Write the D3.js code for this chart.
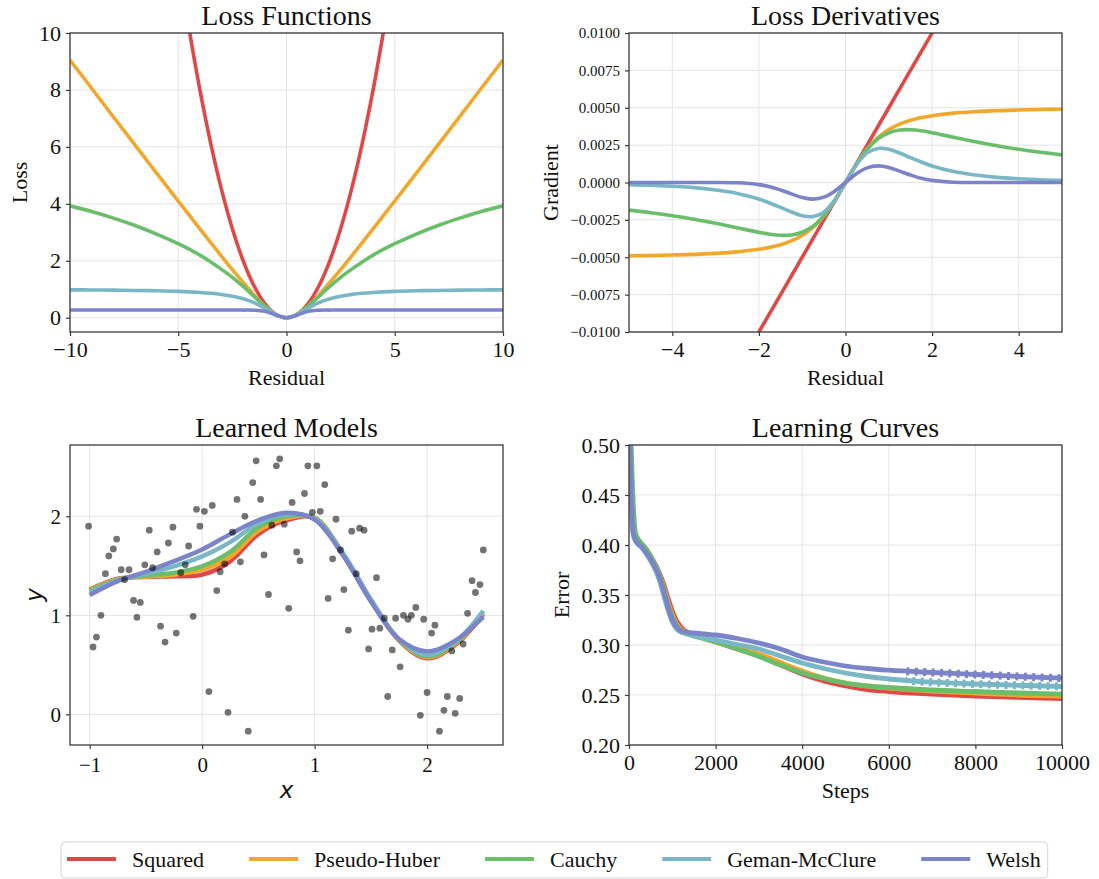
<!DOCTYPE html>
<html>
<head>
<meta charset="utf-8">
<script src="https://cdn.jsdelivr.net/npm/d3@7"></script>
<style>
  body { margin: 0; background: #fff; }
  svg { display: block; }
  text { font-family: "Liberation Serif", "Times New Roman", serif; fill: #111; }
</style>
</head>
<body>
<svg id="fig" width="1099" height="879"></svg>
<script>
// ---------- series ----------
const seriesNames  = ["Squared", "Pseudo-Huber", "Cauchy", "Geman-McClure", "Welsh"];
const seriesColors = ["#e04848", "#efa82c", "#6abd6a", "#79b6c6", "#7b83c9"];

// ---------- loss functions ----------
const squaredX    = [-4.6,-4,-3.5,-3,-2.5,-2,-1.5,-1,-0.5,0,0.5,1,1.5,2,2.5,3,3.5,4,4.6];
const squaredLoss = [10.58,8,6.125,4.5,3.125,2,1.125,0.5,0.125,0,0.125,0.5,1.125,2,3.125,4.5,6.125,8,10.58];
const lossX       = [-10,-9,-8,-7,-6,-5,-4,-3.5,-3,-2.5,-2,-1.5,-1,-0.5,0,0.5,1,1.5,2,2.5,3,3.5,4,5,6,7,8,9,10];
const pseudoHuberLoss = [9.05,8.06,7.06,6.07,5.08,4.10,3.12,2.64,2.16,1.69,1.24,0.80,0.41,0.12,0,0.12,0.41,0.80,1.24,1.69,2.16,2.64,3.12,4.10,5.08,6.07,7.06,8.06,9.05];
const cauchyLoss      = [3.93,3.73,3.50,3.24,2.94,2.60,2.20,1.96,1.70,1.42,1.10,0.75,0.41,0.12,0,0.12,0.41,0.75,1.10,1.42,1.70,1.96,2.20,2.60,2.94,3.24,3.50,3.73,3.93];
const gemanLoss       = [0.98,0.976,0.97,0.96,0.947,0.926,0.889,0.86,0.818,0.758,0.667,0.53,0.333,0.111,0,0.111,0.333,0.53,0.667,0.758,0.818,0.86,0.889,0.926,0.947,0.96,0.97,0.976,0.98];
const welshLoss       = [0.27,0.27,0.27,0.27,0.27,0.27,0.27,0.27,0.27,0.27,0.27,0.266,0.228,0.10,0,0.10,0.228,0.266,0.27,0.27,0.27,0.27,0.27,0.27,0.27,0.27,0.27,0.27,0.27];

// ---------- loss derivatives ----------
const squaredGradX = [-2.1,-1,0,1,2.1];
const squaredGrad  = [-0.0105,-0.005,0,0.005,0.0105];
const gradX = [-5,-4.5,-4,-3.5,-3,-2.5,-2,-1.75,-1.5,-1.25,-1,-0.75,-0.5,-0.25,0,0.25,0.5,0.75,1,1.25,1.5,1.75,2,2.5,3,3.5,4,4.5,5];
const pseudoHuberGrad = [-0.00490,-0.00488,-0.00485,-0.00481,-0.00474,-0.00464,-0.00447,-0.00434,-0.00416,-0.00390,-0.00354,-0.00300,-0.00224,-0.00121,0,0.00121,0.00224,0.00300,0.00354,0.00390,0.00416,0.00434,0.00447,0.00464,0.00474,0.00481,0.00485,0.00488,0.00490];
const cauchyGrad      = [-0.00185,-0.00202,-0.00222,-0.00246,-0.00273,-0.00303,-0.00333,-0.00346,-0.00353,-0.00351,-0.00333,-0.00293,-0.00222,-0.00121,0,0.00121,0.00222,0.00293,0.00333,0.00351,0.00353,0.00346,0.00333,0.00303,0.00273,0.00246,0.00222,0.00202,0.00185];
const gemanGrad       = [-0.00014,-0.00018,-0.00025,-0.00034,-0.00050,-0.00073,-0.00111,-0.00137,-0.00166,-0.00197,-0.00222,-0.00228,-0.00198,-0.00118,0,0.00118,0.00198,0.00228,0.00222,0.00197,0.00166,0.00137,0.00111,0.00073,0.00050,0.00034,0.00025,0.00018,0.00014];
const welshGrad       = [0,0,0,0,0,-0.00002,-0.00014,-0.00028,-0.00050,-0.00076,-0.00101,-0.00111,-0.00098,-0.00058,0,0.00058,0.00098,0.00111,0.00101,0.00076,0.00050,0.00028,0.00014,0.00002,0,0,0,0,0];

// ---------- learned models ----------
const scatterX = [-1.01,-0.97,-0.94,-0.90,-0.86,-0.83,-0.79,-0.76,-0.72,-0.69,
                  -0.65,-0.61,-0.58,-0.55,-0.51,-0.47,-0.44,-0.40,-0.37,-0.33,
                  -0.30,-0.26,-0.23,-0.19,-0.15,-0.12,-0.08,-0.05,-0.02,0.02,
                  0.06,0.09,0.13,0.16,0.20,0.23,0.27,0.31,0.34,0.38,
                  0.41,0.45,0.48,0.52,0.55,0.59,0.62,0.66,0.69,0.73,
                  0.77,0.80,0.84,0.87,0.91,0.94,0.98,1.02,1.05,1.09,
                  1.12,1.16,1.19,1.23,1.26,1.30,1.33,1.37,1.40,1.44,
                  1.48,1.51,1.55,1.58,1.62,1.65,1.69,1.72,1.76,1.79,
                  1.83,1.86,1.90,1.94,1.97,2.00,2.04,2.07,2.11,2.15,
                  2.18,2.22,2.25,2.29,2.32,2.36,2.40,2.43,2.47,2.50];
const scatterY = [1.90,0.68,0.78,1.00,1.42,1.60,1.67,1.77,1.46,1.36,
                  1.46,1.15,0.98,1.13,1.51,1.86,1.48,1.64,0.89,0.73,
                  1.73,1.89,0.82,1.43,1.51,1.70,0.99,2.07,1.90,2.05,
                  0.23,2.11,1.25,1.44,1.52,0.02,1.84,2.17,1.54,2.00,
                  -0.17,2.34,2.56,2.17,1.61,1.21,1.91,2.51,2.58,1.92,
                  1.07,2.14,1.64,1.55,2.23,2.51,2.04,2.51,2.05,2.32,
                  1.17,1.57,1.97,1.66,1.26,0.85,1.85,1.42,1.88,1.86,
                  0.66,0.86,1.38,0.87,0.97,0.18,0.65,0.97,0.48,1.00,
                  0.96,1.00,1.08,-0.01,0.96,0.22,0.82,0.90,-0.17,0.04,
                  0.18,0.64,0.01,0.16,0.71,1.02,1.35,1.23,1.31,1.66];
const modelX = [-1,-0.75,-0.5,-0.25,0,0.25,0.5,0.75,1,1.25,1.5,1.75,2,2.25,2.5];
const squaredFit     = [1.26,1.37,1.387,1.394,1.41,1.545,1.82,1.96,1.985,1.62,1.15,0.745,0.565,0.70,1.01];
const pseudoHuberFit = [1.255,1.365,1.39,1.41,1.46,1.59,1.855,1.98,1.985,1.625,1.155,0.75,0.575,0.71,1.02];
const cauchyFit      = [1.245,1.36,1.40,1.43,1.495,1.64,1.89,2.00,1.98,1.63,1.16,0.755,0.585,0.72,1.04];
const gemanFit       = [1.23,1.355,1.42,1.495,1.595,1.74,1.93,2.02,1.975,1.63,1.16,0.76,0.60,0.73,1.045];
const welshFit       = [1.205,1.345,1.44,1.547,1.665,1.82,1.96,2.035,1.965,1.61,1.14,0.76,0.636,0.745,0.984];

// ---------- learning curves ----------
const steps = [0,50,100,150,200,300,400,500,600,700,800,900,1000,1100,1200,1300,1500,1750,2000,2500,3000,3500,4000,4500,5000,5500,6000,7000,8000,9000,10000];
const squaredErr     = [0.56,0.47,0.412,0.406,0.403,0.399,0.394,0.388,0.381,0.372,0.361,0.347,0.334,0.324,0.318,0.314,0.311,0.307,0.3033,0.296,0.289,0.280,0.271,0.264,0.259,0.2555,0.2535,0.251,0.249,0.2477,0.2465];
const pseudoHuberErr = [0.56,0.47,0.412,0.406,0.403,0.399,0.394,0.388,0.380,0.370,0.358,0.343,0.330,0.321,0.316,0.313,0.310,0.3065,0.3036,0.2975,0.291,0.2825,0.274,0.267,0.262,0.259,0.257,0.254,0.252,0.250,0.2488];
const cauchyErr      = [0.58,0.50,0.44,0.412,0.407,0.401,0.396,0.389,0.381,0.371,0.357,0.341,0.328,0.320,0.315,0.312,0.309,0.306,0.303,0.296,0.2885,0.280,0.272,0.2665,0.262,0.2592,0.2575,0.255,0.2535,0.252,0.2508];
const gemanErr       = [0.55,0.45,0.410,0.404,0.401,0.397,0.391,0.384,0.376,0.365,0.350,0.335,0.323,0.316,0.313,0.3115,0.3095,0.307,0.305,0.3005,0.296,0.289,0.282,0.2765,0.272,0.2685,0.266,0.2628,0.261,0.2597,0.2585];
const welshErr       = [0.55,0.45,0.412,0.405,0.402,0.398,0.392,0.386,0.378,0.368,0.354,0.338,0.325,0.318,0.314,0.313,0.312,0.311,0.310,0.3065,0.302,0.296,0.288,0.283,0.279,0.2765,0.2748,0.2725,0.2705,0.2685,0.2668];

// ---------- tick labels ----------
const lossXTicks = [-10,-5,0,5,10];
const lossYTicks = [0,2,4,6,8,10];
const gradXTicks = [-4,-2,0,2,4];
const gradYTicks = [-0.01,-0.0075,-0.005,-0.0025,0,0.0025,0.005,0.0075,0.01];
const modelXTicks = [-1,0,1,2];
const modelYTicks = [0,1,2];
const stepTicks = [0,2000,4000,6000,8000,10000];
const errTicks = [0.20,0.25,0.30,0.35,0.40,0.45,0.50];

const svg = d3.select("#fig");
let clipId = 0;

function panel(o) {
  const x = d3.scaleLinear().domain(o.xDomain).range([o.l, o.r]);
  const y = d3.scaleLinear().domain(o.yDomain).range([o.b, o.t]);
  const g = svg.append("g");

  // grid
  g.append("g").selectAll("line").data(o.xTicks).join("line")
    .attr("x1", d => x(d)).attr("x2", d => x(d)).attr("y1", o.t).attr("y2", o.b)
    .attr("stroke", "#e3e3e3").attr("stroke-width", 1);
  g.append("g").selectAll("line").data(o.yTicks).join("line")
    .attr("y1", d => y(d)).attr("y2", d => y(d)).attr("x1", o.l).attr("x2", o.r)
    .attr("stroke", "#e3e3e3").attr("stroke-width", 1);

  const id = "clip" + (clipId++);
  svg.append("clipPath").attr("id", id).append("rect")
    .attr("x", o.l).attr("y", o.t).attr("width", o.r - o.l).attr("height", o.b - o.t);
  const plot = g.append("g").attr("clip-path", `url(#${id})`);
  o.draw(plot, x, y);

  // frame
  g.append("rect").attr("x", o.l).attr("y", o.t).attr("width", o.r - o.l).attr("height", o.b - o.t)
    .attr("fill", "none").attr("stroke", "#3a3a3a").attr("stroke-width", 1.3);

  const xAxis = g.append("g").attr("transform", `translate(0,${o.b})`)
    .call(d3.axisBottom(x).tickValues(o.xTicks).tickSize(4).tickPadding(o.xPad || 5).tickFormat(o.xFormat));
  const yAxis = g.append("g").attr("transform", `translate(${o.l},0)`)
    .call(d3.axisLeft(y).tickValues(o.yTicks).tickSize(4).tickPadding(5).tickFormat(o.yFormat));
  [xAxis, yAxis].forEach(a => {
    a.select(".domain").remove();
    a.selectAll(".tick line").attr("stroke", "#3a3a3a").attr("stroke-width", 1.2);
    a.selectAll(".tick text").attr("fill", "#111")
      .style("font-family", '"Liberation Serif", serif');
  });
  xAxis.selectAll(".tick text").style("font-size", o.xTickSize + "px");
  yAxis.selectAll(".tick text").style("font-size", o.yTickSize + "px");

  // title and labels
  g.append("text").attr("x", (o.l + o.r) / 2).attr("y", o.t - 8)
    .attr("text-anchor", "middle").style("font-size", "28px").text(o.title);
  const xl = g.append("text").attr("x", (o.l + o.r) / 2).attr("y", o.xLabelY)
    .attr("text-anchor", "middle").style("font-size", o.labelSize + "px").text(o.xLabel);
  const yl = g.append("text")
    .attr("transform", `translate(${o.yLabelX},${(o.t + o.b) / 2}) rotate(-90)`)
    .attr("text-anchor", "middle").style("font-size", o.labelSize + "px").text(o.yLabel);
  if (o.mathLabels) {
    [xl, yl].forEach(t => t.style("font-family", '"DejaVu Sans", sans-serif').style("font-style", "italic"));
  }
  return { x, y };
}

function drawLines(plot, x, y, sets, width, curve) {
  sets.forEach((s, i) => {
    const pts = s.xs.map((v, k) => [v, s.ys[k]]);
    plot.append("path")
      .attr("d", d3.line().x(d => x(d[0])).y(d => y(d[1])).curve(curve)(pts))
      .attr("fill", "none").attr("stroke", seriesColors[i])
      .attr("stroke-width", width).attr("stroke-linejoin", "round").attr("stroke-linecap", "butt");
  });
}

// Loss Functions
panel({
  l: 70, r: 503, t: 33, b: 332,
  xDomain: [-10, 10], yDomain: [-0.5, 10],
  xTicks: lossXTicks, yTicks: lossYTicks,
  xFormat: d3.format("d"), yFormat: d3.format("d"),
  xTickSize: 22, yTickSize: 22, labelSize: 22,
  title: "Loss Functions", xLabel: "Residual", yLabel: "Loss",
  xLabelY: 385, yLabelX: 27,
  draw: (p, x, y) => drawLines(p, x, y, [
    { xs: squaredX, ys: squaredLoss },
    { xs: lossX, ys: pseudoHuberLoss },
    { xs: lossX, ys: cauchyLoss },
    { xs: lossX, ys: gemanLoss },
    { xs: lossX, ys: welshLoss }
  ], 3.6, d3.curveCatmullRom.alpha(0.5))
});

// Loss Derivatives
panel({
  l: 629, r: 1062, t: 33, b: 332,
  xDomain: [-5, 5], yDomain: [-0.01, 0.01],
  xTicks: gradXTicks, yTicks: gradYTicks,
  xFormat: d3.format("d"), yFormat: d3.format(".4f"),
  xTickSize: 22, yTickSize: 15, labelSize: 22,
  title: "Loss Derivatives", xLabel: "Residual", yLabel: "Gradient",
  xLabelY: 385, yLabelX: 558,
  draw: (p, x, y) => drawLines(p, x, y, [
    { xs: squaredGradX, ys: squaredGrad },
    { xs: gradX, ys: pseudoHuberGrad },
    { xs: gradX, ys: cauchyGrad },
    { xs: gradX, ys: gemanGrad },
    { xs: gradX, ys: welshGrad }
  ], 3.6, d3.curveCatmullRom.alpha(0.5))
});

// Learned Models
panel({
  l: 70, r: 503, t: 445, b: 745,
  xDomain: [-1.175, 2.675], yDomain: [-0.31, 2.72],
  xTicks: modelXTicks, yTicks: modelYTicks,
  xFormat: d3.format("d"), yFormat: d3.format("d"),
  xTickSize: 21, yTickSize: 21, labelSize: 23, mathLabels: true, xPad: 8,
  title: "Learned Models", xLabel: "x", yLabel: "y",
  xLabelY: 798, yLabelX: 42,
  draw: (p, x, y) => {
    drawLines(p, x, y, [
      { xs: modelX, ys: squaredFit },
      { xs: modelX, ys: pseudoHuberFit },
      { xs: modelX, ys: cauchyFit },
      { xs: modelX, ys: gemanFit },
      { xs: modelX, ys: welshFit }
    ], 4.4, d3.curveCatmullRom.alpha(0.5));
    p.append("g").selectAll("circle").data(scatterX.map((v, i) => [v, scatterY[i]])).join("circle")
      .attr("cx", d => x(d[0])).attr("cy", d => y(d[1])).attr("r", 3.4)
      .attr("fill", "#000").attr("fill-opacity", 0.55);
  }
});

// Learning Curves
panel({
  l: 629, r: 1062, t: 445, b: 745,
  xDomain: [0, 10000], yDomain: [0.2, 0.5],
  xTicks: stepTicks, yTicks: errTicks,
  xFormat: d3.format("d"), yFormat: d3.format(".2f"),
  xTickSize: 22, yTickSize: 22, labelSize: 22,
  title: "Learning Curves", xLabel: "Steps", yLabel: "Error",
  xLabelY: 798, yLabelX: 569,
  draw: (p, x, y) => {
    const sets = [squaredErr, pseudoHuberErr, cauchyErr, gemanErr, welshErr]
      .map(ys => ({ xs: steps, ys }));
    drawLines(p, x, y, sets, 4.8, d3.curveMonotoneX);
    // beaded overlay on the late part of the two upper curves
    p.append("clipPath").attr("id", "lateClip").append("rect")
      .attr("x", x(6400)).attr("y", y(0.5)).attr("width", x(10000) - x(6400)).attr("height", y(0.2) - y(0.5));
    const beads = p.append("g").attr("clip-path", "url(#lateClip)");
    [3, 4].forEach(i => {
      const pts = steps.map((s, k) => [s, sets[i].ys[k]]);
      beads.append("path")
        .attr("d", d3.line().x(d => x(d[0])).y(d => y(d[1])).curve(d3.curveMonotoneX)(pts))
        .attr("fill", "none").attr("stroke", seriesColors[i])
        .attr("stroke-width", 8).attr("stroke-dasharray", "3 5.4");
    });
  }
});

// Legend
const legend = svg.append("g");
const box = legend.append("rect").attr("x", 61).attr("y", 842).attr("height", 36)
  .attr("rx", 4).attr("fill", "#fff").attr("stroke", "#d4d4d4").attr("stroke-width", 1);
const colGap = 45;
let cursor = 67;
seriesNames.forEach((name, i) => {
  legend.append("line").attr("x1", cursor).attr("x2", cursor + 49).attr("y1", 859).attr("y2", 859)
    .attr("stroke", seriesColors[i]).attr("stroke-width", 4);
  const t = legend.append("text").attr("x", cursor + 65).attr("y", 867)
    .style("font-size", "22px").text(name);
  cursor += 65 + t.node().getComputedTextLength() + colGap;
});
box.attr("width", cursor - colGap + 7 - 61);
</script>
</body>
</html>
